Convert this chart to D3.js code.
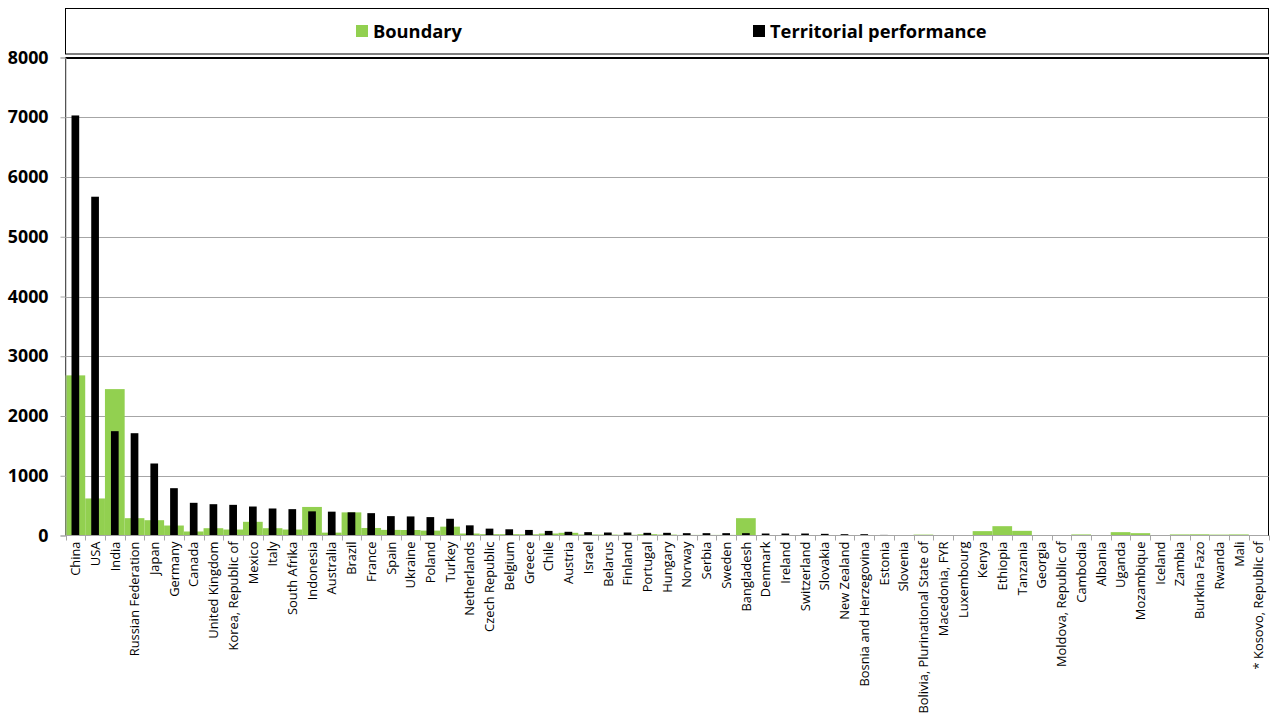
<!DOCTYPE html>
<html>
<head>
<meta charset="utf-8">
<script src="https://cdn.jsdelivr.net/npm/d3@7/dist/d3.min.js"></script>
<style>
  html, body { margin: 0; padding: 0; background: #fff; }
  svg { display: block; }
  text { font-family: "Open Sans", Lato, sans-serif; }
</style>
</head>
<body>
<svg id="chart" width="1271" height="715"></svg>
<script>
const categories = ["China","USA","India","Russian Federation","Japan","Germany","Canada","United Kingdom","Korea, Republic of","Mexico","Italy","South Afrika","Indonesia","Australia","Brazil","France","Spain","Ukraine","Poland","Turkey","Netherlands","Czech Republic","Belgium","Greece","Chile","Austria","Israel","Belarus","Finland","Portugal","Hungary","Norway","Serbia","Sweden","Bangladesh","Denmark","Ireland","Switzerland","Slovakia","New Zealand","Bosnia and Herzegovina","Estonia","Slovenia","Bolivia, Plurinational State of","Macedonia, FYR","Luxembourg","Kenya","Ethiopia","Tanzania","Georgia","Moldova, Republic of","Cambodia","Albania","Uganda","Mozambique","Iceland","Zambia","Burkina Fazo","Rwanda","Mali","* Kosovo, Republic of"];

const boundary = [2680,620,2450,290,256,167,67,122,100,229,122,100,478,48,387,126,94,92,82,148,33,22,22,20,33,45,17,15,12,22,15,10,10,10,290,8,8,8,8,8,8,5,5,15,5,3,73,156,78,4,4,18,4,56,39,3,18,20,15,18,2];

const territorial = [7030,5670,1746,1712,1205,792,547,524,513,485,452,441,404,399,388,374,324,319,308,280,170,115,104,93,77,62,56,50,50,45,45,39,39,39,39,33,33,33,28,22,22,10,6,5,4,4,4,3,3,3,2,2,2,2,2,1,1,1,1,1,0];

const yTicks = [0,1000,2000,3000,4000,5000,6000,7000,8000];

const seriesNames = ["Boundary", "Territorial performance"];
const colors = ["#92D050", "#000000"];

const svg = d3.select("#chart");
const pLeft = 65.5, pRight = 1268.5, pTop = 57.5, pBottom = 535.5;

const x = d3.scaleBand().domain(categories).range([pLeft, pRight]).padding(0);
const y = d3.scaleLinear().domain([0, 8000]).range([pBottom, pTop]);

// legend box
svg.append("rect").attr("x", 65.5).attr("y", 8.5).attr("width", 1203).attr("height", 45.5)
  .attr("fill", "#fff").attr("stroke", "#000").attr("stroke-width", 1);

const legendItems = [
  {name: seriesNames[0], color: colors[0], sx: 356, tx: 373},
  {name: seriesNames[1], color: colors[1], sx: 753, tx: 770}
];
legendItems.forEach(d => {
  svg.append("rect").attr("x", d.sx).attr("y", 25).attr("width", 12).attr("height", 12).attr("fill", d.color);
  svg.append("text").attr("x", d.tx).attr("y", 37.5).attr("font-size", 18.3).attr("font-weight", "bold")
    .attr("fill", "#000").text(d.name);
});

// plot area border
svg.append("rect").attr("x", pLeft).attr("y", pTop).attr("width", pRight - pLeft).attr("height", pBottom - pTop)
  .attr("fill", "none").attr("stroke", "#000").attr("stroke-width", 1);

// gridlines
svg.append("g").selectAll("line").data(yTicks.filter(t => t > 0)).join("line")
  .attr("x1", pLeft).attr("x2", pRight)
  .attr("y1", d => Math.round(y(d)) + 0.5).attr("y2", d => Math.round(y(d)) + 0.5)
  .attr("stroke", d => d === 8000 ? "#000" : "#a6a6a6").attr("stroke-width", 1);

// boundary bars (full category width)
svg.append("g").selectAll("rect").data(categories).join("rect")
  .attr("x", d => x(d))
  .attr("width", x.bandwidth())
  .attr("y", (d, i) => y(boundary[i]))
  .attr("height", (d, i) => y(0) - y(boundary[i]))
  .attr("fill", colors[0]);

// territorial bars (narrow, centered)
const bw = x.bandwidth() * 0.39;
svg.append("g").selectAll("rect").data(categories).join("rect")
  .attr("x", d => x(d) + (x.bandwidth() - bw) / 2)
  .attr("width", bw)
  .attr("y", (d, i) => y(territorial[i]))
  .attr("height", (d, i) => y(0) - y(territorial[i]))
  .attr("fill", colors[1]);

// y axis
const yAxis = d3.axisLeft(y).tickValues(yTicks).tickSize(5).tickPadding(12).tickFormat(d3.format("d"));
const gy = svg.append("g").attr("transform", `translate(${pLeft},0)`).call(yAxis);
gy.select(".domain").attr("stroke", "#a6a6a6");
gy.selectAll(".tick line").attr("stroke", "#a6a6a6");
gy.selectAll(".tick text").attr("font-size", 17.8).attr("font-weight", "bold").attr("fill", "#000")
  .attr("font-family", "'Open Sans', Lato, sans-serif");

// x axis
const gx = svg.append("g").attr("transform", `translate(0,${pBottom})`);
gx.append("line").attr("x1", pLeft).attr("x2", pRight).attr("y1", 0).attr("y2", 0).attr("stroke", "#a6a6a6");
const boundaries = categories.map(c => x(c)).concat([x(categories[categories.length - 1]) + x.bandwidth()]);
gx.selectAll("line.tk").data(boundaries).join("line").attr("class", "tk")
  .attr("x1", d => Math.round(d) + 0.5).attr("x2", d => Math.round(d) + 0.5)
  .attr("y1", 0).attr("y2", 5).attr("stroke", "#a6a6a6");
gx.selectAll("text.lbl").data(categories).join("text").attr("class", "lbl")
  .attr("transform", d => `translate(${x(d) + x.bandwidth() / 2 + 4.7},6) rotate(-90)`)
  .attr("text-anchor", "end")
  .attr("font-size", 12.9)
  .attr("fill", "#000")
  .text(d => d);
</script>
</body>
</html>
